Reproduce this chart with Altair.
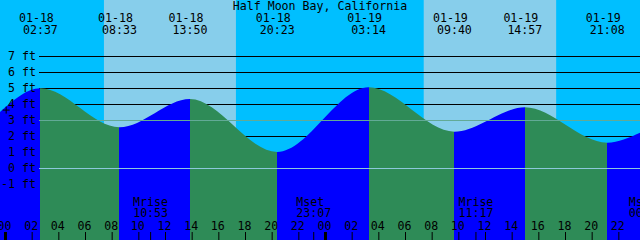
import altair as alt
import pandas as pd

TITLE = "Half Moon Bay, California"

# ---- tide extremes ----
tide_dates = ["01-18", "01-18", "01-18", "01-18", "01-19", "01-19", "01-19", "01-19"]
tide_times = ["02:37", "08:33", "13:50", "20:23", "03:14", "09:40", "14:57", "21:08"]
tide_heights = [4.98, 2.54, 4.31, 1.00, 5.04, 2.27, 3.79, 1.58]
edge_heights = [3.5, 2.2]          # tide level at left / right edge of the window

# ---- sun (day shading) ----
sunrise_dates = ["01-18", "01-19"]
sunrise_times = ["07:23", "07:22"]
sunset_dates = ["01-18", "01-19"]
sunset_times = ["17:17", "17:18"]

# ---- moon events ----
moon_names = ["Mrise", "Mset", "Mrise", "Mset"]
moon_dates = ["01-18", "01-18", "01-19", "01-20"]
moon_times = ["10:53", "23:07", "11:17", "00:03"]

level_ticks = [7, 6, 5, 4, 3, 2, 1, 0, -1]
hour_ticks = list(range(0, 48, 2))

MSL = 3
DATUM = 0

# window: 48 hours starting 01-17 23:35
T0, T1 = -0.4125, 47.5875
Y0, Y1 = -4.5, 10.5

NIGHT = "#00BFFF"
DAY = "#87CEEB"
FLOOD = "#0000FF"
EBB = "#2E8B57"
FONT = "DejaVu Sans Mono"
FS = 11.6


def hrs(d, t):
    day = int(d.split("-")[1]) - 18
    hh, mm = t.split(":")
    return day * 24 + int(hh) + int(mm) / 60.0


tide_t = [hrs(d, t) for d, t in zip(tide_dates, tide_times)]
curve = pd.DataFrame({
    "t": [T0] + tide_t + [T1],
    "h": [edge_heights[0]] + tide_heights + [edge_heights[1]],
})
tides = pd.DataFrame({"t": tide_t, "date": tide_dates, "time": tide_times})
days = pd.DataFrame({
    "start": [hrs(d, t) for d, t in zip(sunrise_dates, sunrise_times)],
    "end": [hrs(d, t) for d, t in zip(sunset_dates, sunset_times)],
})
moon = pd.DataFrame({
    "t": [hrs(d, t) for d, t in zip(moon_dates, moon_times)],
    "name": moon_names, "time": moon_times,
})
levels = pd.DataFrame({"lvl": level_ticks, "label": [f"{v} ft" for v in level_ticks]})
refl = pd.DataFrame({"lvl": [MSL, DATUM], "kind": ["msl", "datum"]})
hours = pd.DataFrame({"t": hour_ticks, "label": [f"{h % 24:02d}" for h in hour_ticks],
                      "mid": [h % 24 == 0 for h in hour_ticks]})
plus = pd.DataFrame({"t": [0.05], "h": [3.62]})

# gradient for flood / ebb colouring
span = T1 - T0
stops = [{"offset": 0, "color": FLOOD}]
prev = FLOOD
for i, t in enumerate(tide_t):
    f = (t - T0) / span
    nxt = EBB if prev == FLOOD else FLOOD
    stops.append({"offset": f, "color": prev})
    stops.append({"offset": f, "color": nxt})
    prev = nxt
stops.append({"offset": 1, "color": prev})
grad = {"gradient": "linear", "x1": 0, "x2": 1, "y1": 0, "y2": 0, "stops": stops}

xs = alt.Scale(domain=[T0, T1], nice=False, zero=False)
ys = alt.Scale(domain=[Y0, Y1], nice=False, zero=False)


def X(f):
    return alt.X(f, type="quantitative", scale=xs, axis=None)


def Y(f):
    return alt.Y(f, type="quantitative", scale=ys, axis=None)


day_layer = alt.Chart(days).mark_rect(color=DAY).encode(
    x=X("start"), x2="end", y=alt.value(0), y2=alt.value(240))

grid = alt.Chart(levels).mark_rule(color="black", strokeWidth=1, yOffset=0.5).encode(
    y=Y("lvl"), x=alt.value(39), x2=alt.value(640))

water = alt.Chart(curve).mark_area(interpolate="monotone", color=grad).encode(
    x=X("t"), y=Y("h"), y2=alt.datum(Y0))

ref_lines = alt.Chart(refl).mark_rule(strokeWidth=1, yOffset=0.5).encode(
    y=Y("lvl"), x=alt.value(39), x2=alt.value(640),
    color=alt.Color("kind:N", scale=alt.Scale(domain=["msl", "datum"],
                                               range=["#62AA96", "#8CC8DC"]), legend=None))

ylabels = alt.Chart(levels).mark_text(font=FONT, fontSize=FS, align="right", dy=4,
                                      baseline="alphabetic", color="black").encode(
    y=Y("lvl"), x=alt.value(36), text="label:N")

hticks = alt.Chart(hours).mark_rule(color="black").encode(
    x=X("t"), y=alt.value(232), y2=alt.value(240),
    strokeWidth=alt.condition("datum.mid", alt.value(3), alt.value(1)))

hlabels = alt.Chart(hours).mark_text(font=FONT, fontSize=FS, dx=-1, baseline="alphabetic",
                                     color="black").encode(
    x=X("t"), y=alt.value(229.5), text="label:N")

mticks = alt.Chart(moon).mark_rule(color="black").encode(
    x=X("t"), y=alt.value(232), y2=alt.value(240))

mnames = alt.Chart(moon).mark_text(font=FONT, fontSize=FS, align="left", dx=-17.5,
                                   baseline="alphabetic", color="black").encode(
    x=X("t"), y=alt.value(206), text="name:N")

mtimes = alt.Chart(moon).mark_text(font=FONT, fontSize=FS, baseline="alphabetic",
                                   color="black").encode(
    x=X("t"), y=alt.value(217), text="time:N")

tdates = alt.Chart(tides).mark_text(font=FONT, fontSize=FS, dx=-4, baseline="alphabetic",
                                    color="black").encode(
    x=X("t"), y=alt.value(21.7), text="date:N")

ttimes = alt.Chart(tides).mark_text(font=FONT, fontSize=FS, baseline="alphabetic",
                                    color="black").encode(
    x=X("t"), y=alt.value(33.6), text="time:N")

title = alt.Chart(pd.DataFrame({"s": [TITLE]})).mark_text(
    font=FONT, fontSize=FS, baseline="alphabetic", color="black").encode(
    x=alt.value(320), y=alt.value(9.5), text="s:N")

plus_mark = alt.Chart(plus).mark_point(shape="M-1,0H1M0,-1V1", size=49, filled=False,
                                       stroke="black", strokeWidth=1, opacity=1).encode(
    x=X("t"), y=Y("h"))

chart = alt.layer(
    day_layer, grid, water, ref_lines, ylabels, hticks, hlabels,
    mticks, mnames, mtimes, tdates, ttimes, title, plus_mark
).properties(
    width=640, height=240, padding=0, autosize="none", background=NIGHT
).configure_view(stroke=None)

chart.save("out.html", embed_options={"renderer": "svg", "actions": False})
